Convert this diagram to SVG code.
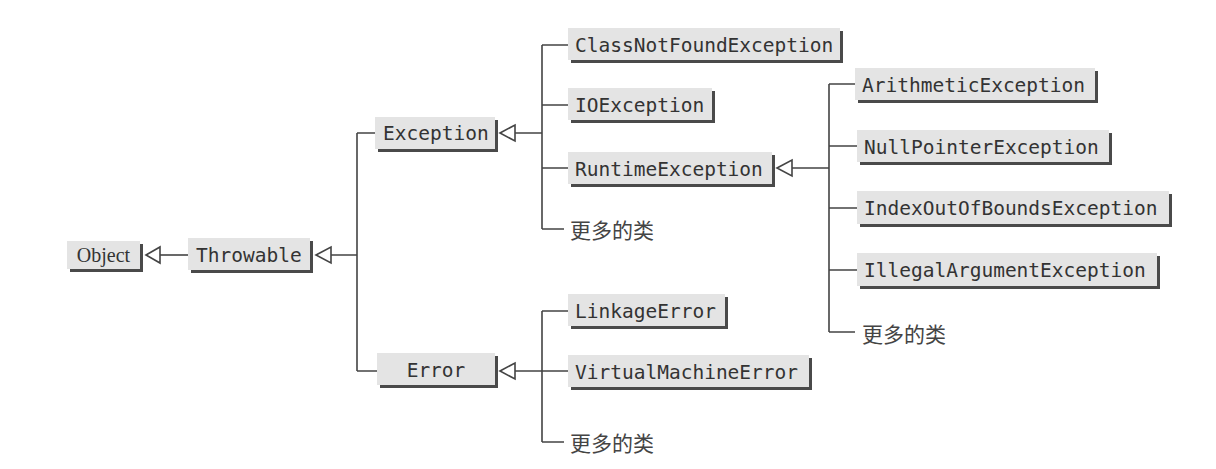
<svg xmlns="http://www.w3.org/2000/svg" width="1216" height="469" viewBox="0 0 1216 469">
<style>
.sh{fill:#4a4a4a}
.bx{fill:#e4e4e4}
.t{font-family:"DejaVu Sans Mono","Liberation Mono",monospace;font-size:19.5px;fill:#333;dominant-baseline:central}
.s{font-family:"Liberation Serif",serif;font-size:20px;fill:#333;dominant-baseline:central}
.c{font-family:"Noto Sans CJK SC",sans-serif;font-size:21px;fill:#444;dominant-baseline:central}
.ln{stroke:#444;stroke-width:1.6;fill:none}
.tri{stroke:#444;stroke-width:1.6;fill:#fff}
</style>
<rect width="1216" height="469" fill="#fff"/>
<g id="connectors">
<path class="ln" d="M160 255H188"/>
<polygon class="tri" points="146,255 160,247 160,263"/>
<path class="ln" d="M331 255H357M357 133V371M357 133H375M357 371H377"/>
<polygon class="tri" points="316,255 331,247 331,263"/>
<path class="ln" d="M515 133H542M542 45V229M542 45H568M542 105H568M542 168H568M542 229H564"/>
<polygon class="tri" points="500,133 515,125 515,141"/>
<path class="ln" d="M792 168H829M829 84V332M829 84H855M829 146H857M829 208H857M829 270H857M829 332H855"/>
<polygon class="tri" points="777,168 792,160 792,176"/>
<path class="ln" d="M515 371H542M542 311V442M542 311H568M542 371H568M542 442H564"/>
<polygon class="tri" points="500,371 515,363 515,379"/>
</g>
<g id="object"><rect class="sh" x="70" y="244" width="73" height="28"/><rect class="bx" x="67" y="241" width="73" height="28"/><text class="s" x="103.5" y="255" text-anchor="middle">Object</text></g>
<g id="throwable"><rect class="sh" x="191" y="241" width="122" height="32"/><rect class="bx" x="188" y="238" width="122" height="32"/><text class="t" x="196" y="255">Throwable</text></g>
<g id="exception"><rect class="sh" x="378" y="120" width="120" height="32"/><rect class="bx" x="375" y="117" width="120" height="32"/><text class="t" x="383" y="133">Exception</text></g>
<g id="error"><rect class="sh" x="380" y="356" width="118" height="32"/><rect class="bx" x="377" y="353" width="118" height="32"/><text class="t" x="436" y="370" text-anchor="middle">Error</text></g>
<g id="classnotfound"><rect class="sh" x="571" y="31" width="272" height="32"/><rect class="bx" x="568" y="28" width="272" height="32"/><text class="t" x="575" y="45">ClassNotFoundException</text></g>
<g id="ioexception"><rect class="sh" x="571" y="91" width="144" height="32"/><rect class="bx" x="568" y="88" width="144" height="32"/><text class="t" x="575" y="105">IOException</text></g>
<g id="runtime"><rect class="sh" x="571" y="155" width="204" height="32"/><rect class="bx" x="568" y="152" width="204" height="32"/><text class="t" x="575" y="169">RuntimeException</text></g>
<g id="more1"><text class="c" x="570" y="229">更多的类</text></g>
<g id="linkage"><rect class="sh" x="571" y="297" width="157" height="32"/><rect class="bx" x="568" y="294" width="157" height="32"/><text class="t" x="575" y="311">LinkageError</text></g>
<g id="vmerror"><rect class="sh" x="571" y="358" width="241" height="32"/><rect class="bx" x="568" y="355" width="241" height="32"/><text class="t" x="575" y="372">VirtualMachineError</text></g>
<g id="more3"><text class="c" x="570" y="442">更多的类</text></g>
<g id="arithmetic"><rect class="sh" x="858" y="71" width="240" height="32"/><rect class="bx" x="855" y="68" width="240" height="32"/><text class="t" x="862" y="85">ArithmeticException</text></g>
<g id="nullpointer"><rect class="sh" x="860" y="133" width="252" height="32"/><rect class="bx" x="857" y="130" width="252" height="32"/><text class="t" x="864" y="147">NullPointerException</text></g>
<g id="indexoutofbounds"><rect class="sh" x="860" y="194" width="312" height="33"/><rect class="bx" x="857" y="191" width="312" height="33"/><text class="t" x="864" y="208">IndexOutOfBoundsException</text></g>
<g id="illegalargument"><rect class="sh" x="860" y="256" width="300" height="33"/><rect class="bx" x="857" y="253" width="300" height="33"/><text class="t" x="864" y="270">IllegalArgumentException</text></g>
<g id="more2"><text class="c" x="862" y="333">更多的类</text></g>
</svg>
